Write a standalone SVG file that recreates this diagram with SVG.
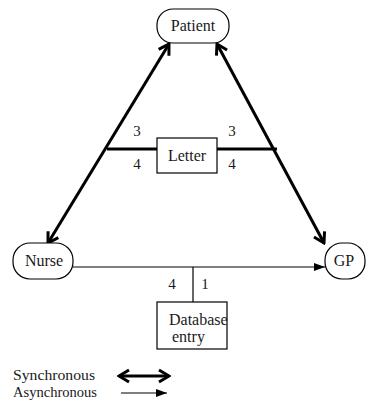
<svg xmlns="http://www.w3.org/2000/svg" width="367" height="403" viewBox="0 0 367 403">
<style>
  .node { fill: #fff; stroke: #000; stroke-width: 1.2; }
  .lbl { font-family: "Liberation Serif", "Times New Roman", serif; font-size: 16px; fill: #1a1a1a; }
  .leg { font-family: "Liberation Serif", "Times New Roman", serif; font-size: 14.5px; fill: #1a1a1a; }
  .num { font-family: "Liberation Serif", "Times New Roman", serif; font-size: 15px; fill: #1a1a1a; text-anchor: middle; }
  .sync { stroke: #000; stroke-width: 3; fill: none; }
  .async { stroke: #000; stroke-width: 1.2; fill: none; }
</style>
<defs>
  <marker id="chev" markerUnits="userSpaceOnUse" viewBox="-12 -8 14 16" refX="0" refY="0" markerWidth="14" markerHeight="16" orient="auto-start-reverse">
    <path d="M-10,-6 L0,0 L-10,6" fill="none" stroke="#000" stroke-width="3"/>
  </marker>
  <marker id="tri" markerUnits="userSpaceOnUse" viewBox="-12 -5 13 10" refX="0" refY="0" markerWidth="13" markerHeight="10" orient="auto">
    <path d="M-11,-4 L0,0 L-11,4 Z" fill="#000"/>
  </marker>
</defs>
<rect width="367" height="403" fill="#fff"/>
<g id="connectors">
  <line class="sync" x1="48" y1="243" x2="169" y2="44" marker-start="url(#chev)" marker-end="url(#chev)"/>
  <line class="sync" x1="217" y1="44" x2="324" y2="243" marker-start="url(#chev)" marker-end="url(#chev)"/>
  <line class="sync" x1="107" y1="149" x2="157" y2="149"/>
  <line class="sync" x1="217" y1="149" x2="277" y2="149"/>
  <line class="async" x1="73" y1="267" x2="325" y2="267" marker-end="url(#tri)"/>
  <line class="async" x1="193" y1="267" x2="193" y2="302"/>
</g>
<g id="patient">
  <rect class="node" x="157" y="9" width="72" height="34" rx="16" ry="16"/>
  <text class="lbl" x="193" y="31" text-anchor="middle">Patient</text>
</g>
<g id="letter">
  <rect class="node" x="157" y="138" width="60" height="35"/>
  <text class="lbl" x="187" y="161" text-anchor="middle">Letter</text>
</g>
<g id="nurse">
  <rect class="node" x="13" y="243" width="60" height="36" rx="17" ry="17"/>
  <text class="lbl" x="44" y="266" text-anchor="middle">Nurse</text>
</g>
<g id="gp">
  <rect class="node" x="325" y="243" width="40" height="36" rx="17" ry="17"/>
  <text class="lbl" x="344" y="266" text-anchor="middle">GP</text>
</g>
<g id="database">
  <rect class="node" x="157" y="302" width="70" height="47"/>
  <text class="lbl" x="169" y="325">Database</text>
  <text class="lbl" x="172" y="342">entry</text>
</g>
<g id="labels">
  <text class="num" x="137" y="136">3</text>
  <text class="num" x="137" y="169">4</text>
  <text class="num" x="232" y="136">3</text>
  <text class="num" x="232" y="169">4</text>
  <text class="num" x="172" y="289">4</text>
  <text class="num" x="205" y="289">1</text>
</g>
<g id="legend">
  <text class="leg" x="13" y="380" textLength="82" lengthAdjust="spacingAndGlyphs">Synchronous</text>
  <text class="leg" x="13" y="397" textLength="84" lengthAdjust="spacingAndGlyphs">Asynchronous</text>
  <line class="sync" x1="119" y1="376" x2="169" y2="376" marker-start="url(#chev)" marker-end="url(#chev)"/>
  <line class="async" x1="121" y1="393" x2="167" y2="393" marker-end="url(#tri)"/>
</g>
</svg>
